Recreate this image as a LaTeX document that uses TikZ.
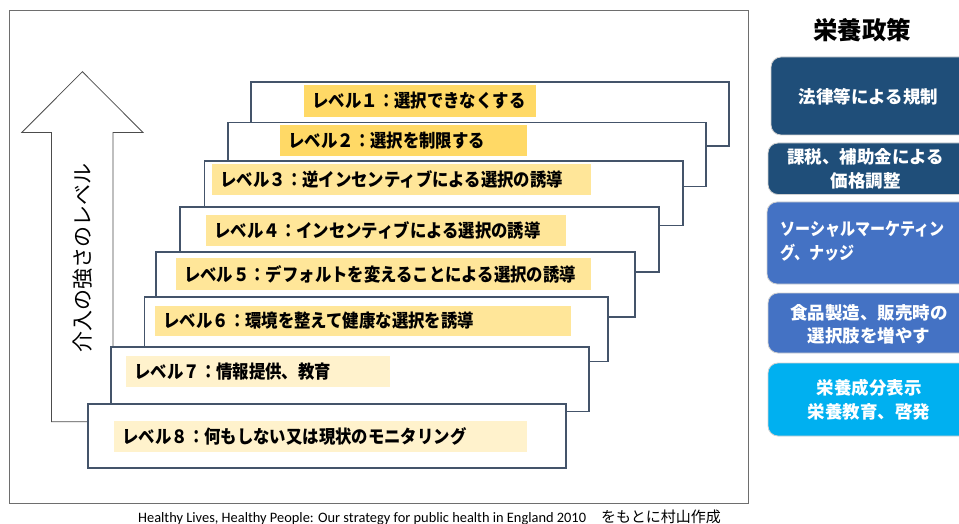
\documentclass[tikz,border=0pt]{standalone}
\usepackage{fontspec}
\usepackage{graphicx}
\setmainfont{Carlito}
\newfontfamily\jp{Noto Sans CJK JP}
\newcommand{\lvtext}[1]{\scalebox{0.9}[1]{#1}}
\definecolor{boxc}{HTML}{44546A}
\definecolor{goldA}{HTML}{FFD966}
\definecolor{goldB}{HTML}{FFE699}
\definecolor{goldC}{HTML}{FFF2CC}
\definecolor{navy}{HTML}{1F4E79}
\definecolor{midblue}{HTML}{4472C4}
\definecolor{cyanb}{HTML}{00B0F0}
\definecolor{framec}{HTML}{6E6E6E}
\tikzset{
  stair/.style={draw=boxc, line width=1.4pt, fill=white, inner sep=0pt, outer sep=0pt, anchor=north west},
  lab/.style={inner ysep=0pt, inner xsep=8.5pt, outer sep=0pt, anchor=north west, align=left,
    font=\jp\bfseries\fontsize{18.2}{19}\selectfont},
  rbox/.style={rounded corners=10pt, draw=black!18, line width=0.8pt, inner sep=0pt, outer sep=0pt, anchor=north west, minimum width=230},
  rtext/.style={text=white, align=center, font=\jp\bfseries\fontsize{17.5}{23.5}\selectfont},
}
\begin{document}
\begin{tikzpicture}[x=1pt,y=-1pt]
\useasboundingbox (0,0) rectangle (959,524);
\begin{scope}
\clip (0,0) rectangle (959,524);
% outer frame
\node[draw=framec, line width=1pt, minimum width=738.5, minimum height=493, inner sep=0pt, outer sep=0pt, anchor=north west] (frame) at (9.5,10.5) {};
% arrow
\draw[draw=black!70, line width=0.8pt, fill=white]
  (82.4,71.7) -- (143,132.5) -- (113,132.5) -- (113,421.7) -- (51.4,421.7) -- (51.4,132.5) -- (21.8,132.5) -- cycle;
\node[rotate=90, font=\jp\fontsize{21}{24}\selectfont] (vt) at (83,257.5) {介入の強さのレベル};
% stairs
\node[stair, minimum width=478, minimum height=64] (s1) at (251,82) {};
\node[lab, fill=goldA, text width=214.6pt, minimum height=31.7] (l1) at (304,85) {\lvtext{レベル１：選択できなくする}};
\node[stair, minimum width=478, minimum height=64.2] (s2) at (228,122.5) {};
\node[lab, fill=goldA, text width=230pt, minimum height=30.7] (l2) at (280,125) {\lvtext{レベル２：選択を制限する}};
\node[stair, minimum width=478.4, minimum height=64.7] (s3) at (204.6,161) {};
\node[lab, fill=goldB, text width=362pt, minimum height=31] (l3) at (212,164) {\lvtext{レベル３：逆インセンティブによる選択の誘導}};
\node[stair, minimum width=479, minimum height=65] (s4) at (180,207) {};
\node[lab, fill=goldB, text width=343pt, minimum height=30.7] (l4) at (206,215) {\lvtext{レベル４：インセンティブによる選択の誘導}};
\node[stair, minimum width=479, minimum height=65] (s5) at (156,252) {};
\node[lab, fill=goldB, text width=398.5pt, minimum height=32] (l5) at (175.5,258) {\lvtext{レベル５：デフォルトを変えることによる選択の誘導}};
\node[stair, minimum width=463.5, minimum height=64.7] (s6) at (144.5,297) {};
\node[lab, fill=goldB, text width=398.5pt, minimum height=30.3] (l6) at (155,305.7) {\lvtext{レベル６：環境を整えて健康な選択を誘導}};
\node[stair, minimum width=478, minimum height=64.7] (s7) at (111,347) {};
\node[lab, fill=goldC, text width=247pt, minimum height=31] (l7) at (126,355.7) {\lvtext{レベル７：情報提供、教育}};
\node[stair, minimum width=478, minimum height=64] (s8) at (88,404) {};
\node[lab, fill=goldC, text width=396.4pt, minimum height=31] (l8) at (114,421) {\lvtext{レベル８：何もしない又は現状のモニタリング}};
% right column
\node[font=\jp\bfseries\fontsize{24.5}{28}\selectfont] (title) at (862,30) {栄養政策};
\node[rbox, fill=navy, minimum height=78] (r1) at (771,57) {};
\node[rtext] (t1) at (868.5,97) {法律等による規制};
\node[rbox, fill=navy, minimum height=51.5] (r2) at (768,143) {};
\node[rtext] (t2) at (865.5,169) {課税、補助金による\\価格調整};
\node[rbox, fill=midblue, minimum height=82] (r3) at (767,202) {};
\node[rtext, align=left, anchor=north west] (t3) at (777,218) {\scalebox{0.86}[1]{ソーシャルマーケティン}\\\scalebox{0.86}[1]{グ、ナッジ}};
\node[rbox, fill=midblue, minimum height=60] (r4) at (768,293) {};
\node[rtext] (t4) at (869,324.5) {食品製造、販売時の\\選択肢を増やす};
\node[rbox, fill=cyanb, minimum height=73] (r5) at (768,363) {};
\node[rtext] (t5) at (869,399.5) {栄養成分表示\\栄養教育、啓発};
% source
\node[font=\fontsize{14.4}{16}\selectfont] (src) at (429.5,517) {Healthy Lives, Healthy People: Our strategy for public health in England 2010{\jp\fontsize{15}{16}\selectfont　をもとに村山作成}};
\end{scope}
\end{tikzpicture}
\end{document}
